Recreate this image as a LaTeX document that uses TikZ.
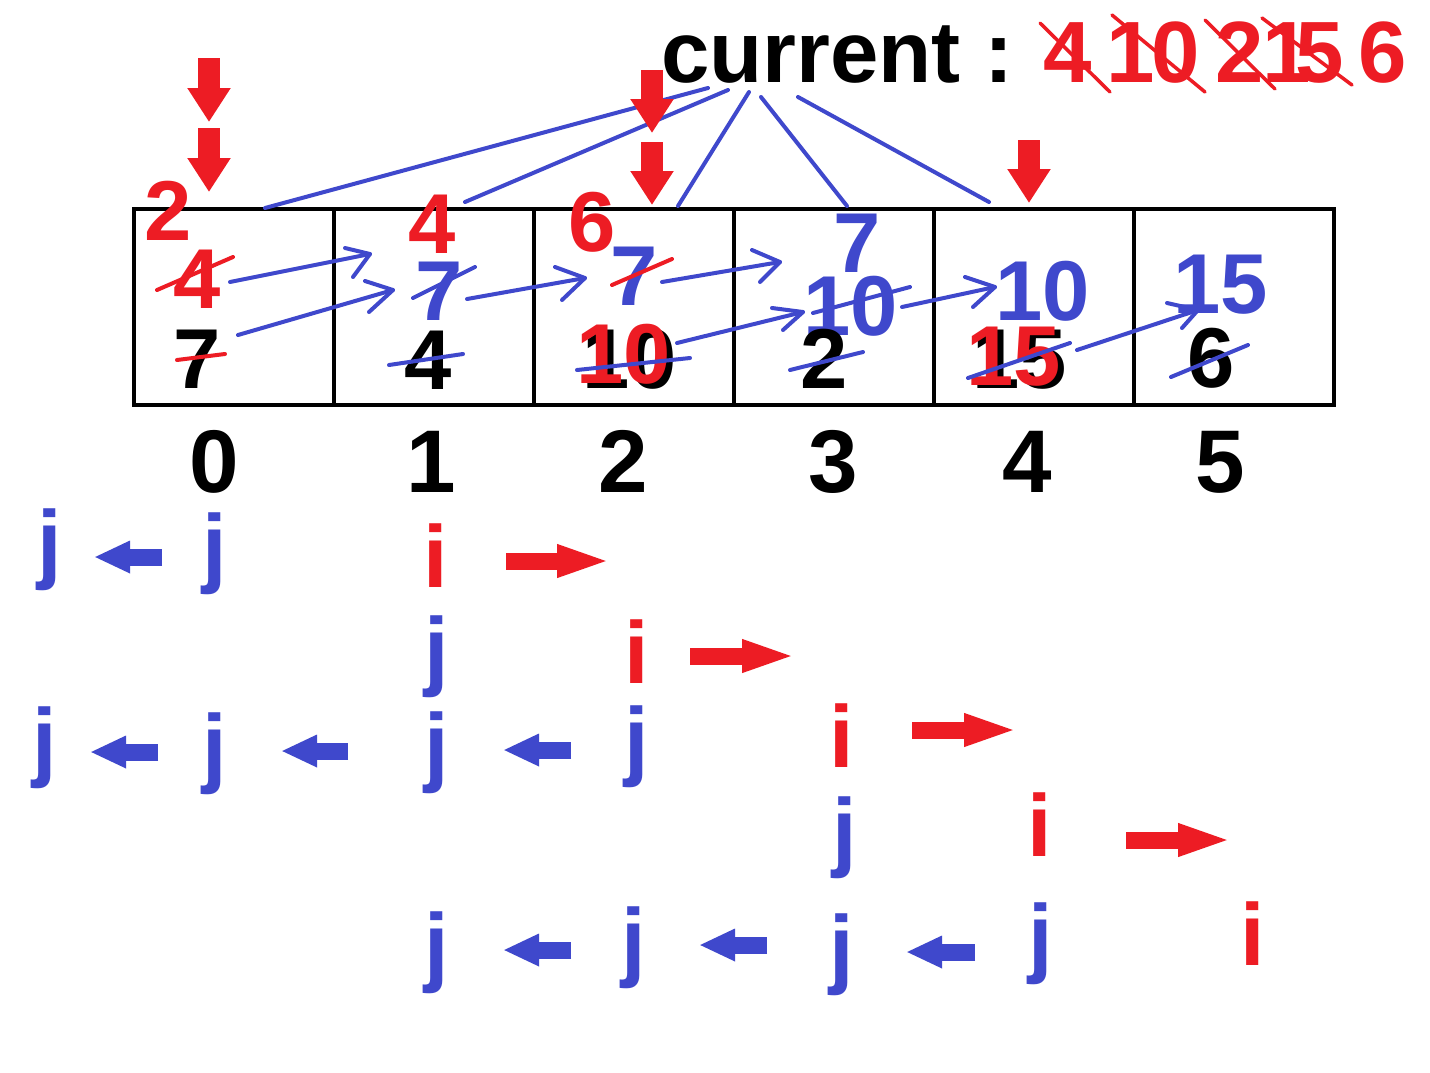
\documentclass[tikz,border=0pt]{standalone}
\usepackage{fontspec}
\setmainfont{Liberation Sans}
\usetikzlibrary{arrows.meta}
\definecolor{pblue}{HTML}{3F48CC}
\definecolor{pred}{HTML}{ED1C24}
\begin{document}
\begin{tikzpicture}[x=1pt,y=-1pt,
  txt/.style={inner sep=0pt, outer sep=0pt, anchor=base},
  celldig/.style={txt, font=\fontsize{85}{85}\selectfont\bfseries},
  headtxt/.style={txt, font=\fontsize{87}{87}\selectfont\bfseries},
  idx/.style={txt, font=\fontsize{89}{89}\selectfont\bfseries},
  letter/.style={txt, font=\fontsize{88}{88}\selectfont\bfseries},
  cellbox/.style={draw=black, line width=4pt, minimum width=200pt, minimum height=196pt, inner sep=0pt},
  bline/.style={draw=pblue, line width=4pt, line cap=round, line join=round},
  rline/.style={draw=pred, line width=4pt, line cap=round},
  rthin/.style={draw=pred, line width=3.5pt, line cap=round},
  downarr/.style={draw=pred, line width=22pt, -{Triangle[length=34pt, width=41pt]}},
  leftarr/.style={draw=pblue, line width=17pt, -{Triangle[length=36pt, width=30pt]}},
  rightarr/.style={draw=pred, line width=17pt, -{Triangle[length=55pt, width=29pt]}}
]
\fill[white] (0,0) rectangle (1430,1072);
\useasboundingbox (0,0) rectangle (1430,1072);

% cells
\foreach \k/\cx in {0/234,1/434,2/634,3/834,4/1034,5/1234}
  \node[cellbox] (c\k) at (\cx,307) {};

% header
\node[headtxt, anchor=base west] (cur) at (661,82) {current :};
\node[headtxt, text=pred] (h4) at (1068,82) {4};
\node[headtxt, text=pred] (h1a) at (1131,82) {1};
\node[headtxt, text=pred] (h0) at (1176,82) {0};
\node[headtxt, text=pred] (h2) at (1240,82) {2};
\node[headtxt, text=pred] (h1b) at (1287,82) {1};
\node[headtxt, text=pred] (h5) at (1320,82) {5};
\node[headtxt, text=pred] (h6) at (1383,82) {6};
\draw[rthin] (1040,23) -- (1110,92);
\draw[rthin] (1112,15) -- (1205,92);
\draw[rthin] (1205,20) -- (1275,89);
\draw[rthin] (1262,18) -- (1352,85);

% lines from current
\coordinate (o1) at (708,88);
\coordinate (o2) at (728,90);
\coordinate (o3) at (749,92);
\coordinate (o4) at (761,97);
\coordinate (o5) at (798,97);
\coordinate (t0) at (265,208);
\coordinate (t1) at (465,202);
\coordinate (t2) at (678,206);
\coordinate (t3) at (847,206);
\coordinate (t4) at (989,202);
\draw[bline] (o1) -- (t0);
\draw[bline] (o2) -- (t1);
\draw[bline] (o3) -- (t2);
\draw[bline] (o4) -- (t3);
\draw[bline] (o5) -- (t4);

% red down arrows
\draw[downarr] (209,58) -- (209,122);
\draw[downarr] (209,128) -- (209,192);
\draw[downarr] (652,70) -- (652,133);
\draw[downarr] (652,142) -- (652,205);
\draw[downarr] (1029,140) -- (1029,203);

% cell 0
\node[celldig, text=pred] (a2) at (168,240) {2};
\node[celldig, text=pred] (a4) at (197,308) {4};
\node[celldig, text=black] (a7) at (197,388) {7};
% cell 1
\node[celldig, text=pred] (b4r) at (432,253) {4};
\node[celldig, text=pblue] (b7) at (439,320) {7};
\node[celldig, text=black] (b4) at (428,389) {4};
% cell 2
\node[celldig, text=pred] (d6) at (592,251) {6};
\node[celldig, text=pblue] (d7) at (634,305) {7};
\node[celldig, text=black] (d10k) at (630,388) {10};
\node[celldig, text=pred] (d10r) at (624,383) {10};
% cell 3
\node[celldig, text=pblue] (e7) at (857,272) {7};
\node[celldig, text=pblue] (e10) at (851,335) {10};
\node[celldig, text=black] (e2) at (824,388) {2};
% cell 4
\node[celldig, text=pblue] (f10) at (1043,320) {10};
\node[celldig, text=black] (f15k) at (1020,388) {15};
\node[celldig, text=pred] (f15r) at (1014,385) {15};
% cell 5
\node[celldig, text=pblue] (g15) at (1221,313) {15};
\node[celldig, text=black] (g6) at (1211,387) {6};

% strikes
\draw[rline] (157,290) -- (233,257);
\draw[rline] (177,360) -- (225,354);
\draw[bline] (413,298) -- (475,267);
\draw[bline] (389,365) -- (463,354);
\draw[rline] (612,285) -- (672,259);
\draw[bline] (577,370) -- (690,358);
\draw[bline] (813,313) -- (910,287);
\draw[bline] (790,370) -- (863,352);
\draw[bline] (968,378) -- (1070,343);
\draw[bline] (1171,377) -- (1248,345);

% blue move arrows
\draw[bline] (230,282) -- (370,254);
\draw[bline] (345,248) -- (370,254) -- (353,277);
\draw[bline] (238,335) -- (393,290);
\draw[bline] (365,281) -- (393,290) -- (369,312);
\draw[bline] (467,299) -- (585,278);
\draw[bline] (555,267) -- (585,278) -- (562,300);
\draw[bline] (662,282) -- (780,262);
\draw[bline] (752,250) -- (780,262) -- (760,282);
\draw[bline] (677,343) -- (803,312);
\draw[bline] (772,308) -- (803,312) -- (783,330);
\draw[bline] (902,307) -- (995,287);
\draw[bline] (965,277) -- (995,287) -- (973,307);
\draw[bline] (1077,350) -- (1198,310);
\draw[bline] (1167,303) -- (1198,310) -- (1182,328);

% indices
\node[idx] (i0) at (214,492) {0};
\node[idx] (i1) at (431,492) {1};
\node[idx] (i2) at (623,492) {2};
\node[idx] (i3) at (833,492) {3};
\node[idx] (i4) at (1027,492) {4};
\node[idx] (i5) at (1220,492) {5};

% row 1
\node[letter, text=pblue] (r1j1) at (50,572) {j};
\node[letter, text=pblue] (r1j2) at (215,576) {j};
\node[letter, text=pred] (r1i) at (436,587) {i};
\draw[leftarr] (162,557) -- (94,557);
\draw[rightarr] (506,561) -- (612,561);
% row 2
\node[letter, text=pblue] (r2j) at (437,679) {j};
\node[letter, text=pred] (r2i) at (637,683) {i};
\draw[rightarr] (690,656) -- (797,656);
% row 3
\node[letter, text=pblue] (r3j1) at (45,770) {j};
\node[letter, text=pblue] (r3j2) at (215,776) {j};
\node[letter, text=pblue] (r3j3) at (437,775) {j};
\node[letter, text=pblue] (r3j4) at (637,769) {j};
\node[letter, text=pred] (r3i) at (842,767) {i};
\draw[leftarr] (158,752) -- (90,752);
\draw[leftarr] (348,751) -- (281,751);
\draw[leftarr] (571,750) -- (503,750);
\draw[rightarr] (912,730) -- (1019,730);
% row 4
\node[letter, text=pblue] (r4j) at (845,860) {j};
\node[letter, text=pred] (r4i) at (1040,856) {i};
\draw[rightarr] (1126,840) -- (1233,840);
% row 5
\node[letter, text=pblue] (r5j1) at (437,975) {j};
\node[letter, text=pblue] (r5j2) at (634,970) {j};
\node[letter, text=pblue] (r5j3) at (842,977) {j};
\node[letter, text=pblue] (r5j4) at (1041,966) {j};
\node[letter, text=pred] (r5i) at (1253,965) {i};
\draw[leftarr] (571,950) -- (503,950);
\draw[leftarr] (767,945) -- (699,945);
\draw[leftarr] (975,952) -- (906,952);
\end{tikzpicture}
\end{document}
